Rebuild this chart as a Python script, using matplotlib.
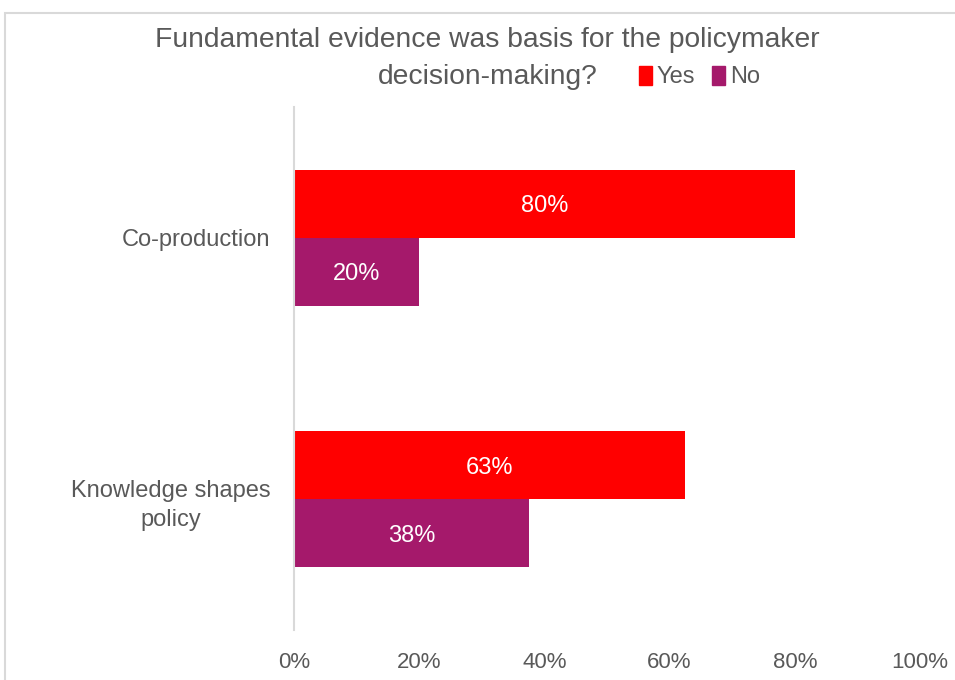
import matplotlib
matplotlib.use('Agg')
import matplotlib.pyplot as plt
import matplotlib.ticker as mtick
from matplotlib.patches import Rectangle, Patch

categories = ['Co-production', 'Knowledge shapes\npolicy']
yes_vals = [80, 62.5]
no_vals = [20, 37.5]
yes_labels = ['80%', '63%']
no_labels = ['20%', '38%']
xticks = [0, 20, 40, 60, 80, 100]

plt.rcParams['font.family'] = ['Liberation Sans', 'DejaVu Sans']

red = '#FF0000'
purple = '#A5196B'
gray = '#595959'

fig = plt.figure(figsize=(9.55, 6.8), dpi=100)
ax = fig.add_axes([294 / 955, 1 - 630 / 680, 626 / 955, 523 / 680])

pos = list(range(len(categories)))
h = 0.26
ax.barh([p - h / 2 for p in pos], yes_vals, height=h, color=red, label='Yes')
ax.barh([p + h / 2 for p in pos], no_vals, height=h, color=purple, label='No')

for p, v, t in zip(pos, yes_vals, yes_labels):
  ax.text(v / 2, p - h / 2 + 0.01, t, color='white', fontsize=17, ha='center', va='center')
for p, v, t in zip(pos, no_vals, no_labels):
  ax.text(v / 2, p + h / 2 + 0.01, t, color='white', fontsize=17, ha='center', va='center')

ax.set_xlim(0, 100)
ax.set_ylim(1.5, -0.5)
ax.set_xticks(xticks)
ax.xaxis.set_major_formatter(mtick.PercentFormatter(decimals=0))
ax.set_yticks(pos)
ax.set_yticklabels(categories, fontsize=17, color=gray, ha='right',
                   multialignment='center', linespacing=1.45)
ax.tick_params(axis='y', length=0, pad=17)
ax.tick_params(axis='x', length=0, pad=16, labelsize=16, labelcolor=gray)

for s in ['top', 'right', 'bottom']:
  ax.spines[s].set_visible(False)
ax.spines['left'].set_color('#D9D9D9')
ax.spines['left'].set_linewidth(1.5)

fig.text(487 / 955, 1 - 40 / 680, 'Fundamental evidence was basis for the policymaker',
         fontsize=20.3, color=gray, ha='center', va='center')
fig.text(488 / 955, 1 - 77 / 680, 'decision-making?',
         fontsize=20.3, color=gray, ha='center', va='center')

handles = [Patch(color=red, label='Yes'), Patch(color=purple, label='No')]
fig.legend(handles=handles, loc='center left', bbox_to_anchor=(618 / 955, 1 - 77 / 680),
           ncol=2, frameon=False, fontsize=17, labelcolor=gray, handlelength=0.55,
           handleheight=0.85, handletextpad=0.2, columnspacing=0.7)

fig.patches.append(Rectangle((5 / 955, -0.1), 1.2, (1 - 13 / 680) + 0.1,
                             transform=fig.transFigure, fill=False,
                             edgecolor='#D9D9D9', linewidth=1.5))

plt.savefig('out.png', dpi=100)
